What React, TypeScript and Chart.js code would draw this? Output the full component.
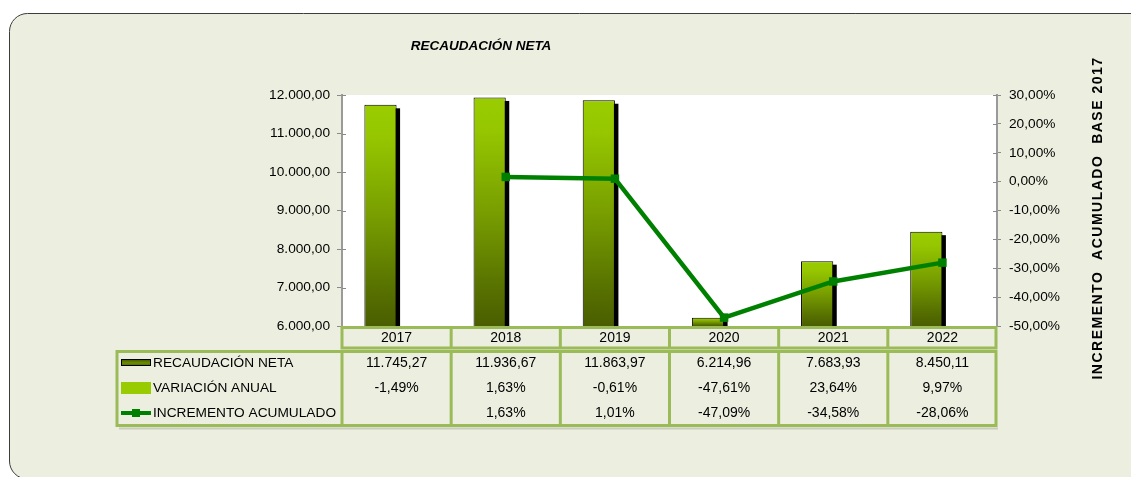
import { useEffect, useRef } from 'react';
import { Chart, registerables } from 'chart.js';

Chart.register(...registerables);

// ---------- data ----------
const years = ['2017', '2018', '2019', '2020', '2021', '2022'];
const recaudacionNeta = [11745.27, 11936.67, 11863.97, 6214.96, 7683.93, 8450.11];
const variacionAnual = [-1.49, 1.63, -0.61, -47.61, 23.64, 9.97];
const incrementoAcumulado: (number | null)[] = [null, 1.63, 1.01, -47.09, -34.58, -28.06];
const seriesNames = ['RECAUDACIÓN NETA', 'VARIACIÓN ANUAL', 'INCREMENTO ACUMULADO'];
const leftAxisMin = 6000;
const leftAxisMax = 12000;
const leftAxisStep = 1000;
const rightAxisMin = -50;
const rightAxisMax = 30;
const rightAxisStep = 10;
const chartTitle = 'RECAUDACIÓN NETA';
const rightAxisTitle = 'INCREMENTO  ACUMULADO  BASE 2017';

// ---------- styles ----------
const FONT = '"Liberation Sans", Arial, sans-serif';
const TABLE_GREEN = '#9BBB59';
const LINE_GREEN = '#008000';
const LIGHT_GREEN = '#99CC00';
const BOX_BG = '#ECEFE0';

function fmtNum(v: number, dec: number): string {
  const neg = v < 0;
  const s = Math.abs(v).toFixed(dec);
  const [int, frac] = s.split('.');
  const grouped = int.replace(/\B(?=(\d{3})+(?!\d))/g, '.');
  return (neg ? '-' : '') + grouped + (frac ? ',' + frac : '');
}
const fmtPct = (v: number) => fmtNum(v, 2) + '%';

const backgroundPlugin = {
  id: 'bgBox',
  beforeDraw(chart: any) {
    const { ctx, chartArea: a, width, height } = chart;
    ctx.save();
    ctx.fillStyle = '#ffffff';
    ctx.fillRect(0, 0, width, height);
    ctx.beginPath();
    (ctx as any).roundRect(9.5, 13.5, width + 40, height - 13 + 1.5, 18);
    ctx.fillStyle = BOX_BG;
    ctx.fill();
    ctx.strokeStyle = '#3c3c3c';
    ctx.lineWidth = 1;
    ctx.stroke();
    ctx.fillStyle = '#ffffff';
    ctx.fillRect(a.left, a.top, a.right - a.left, a.bottom - a.top);
    ctx.restore();
  },
};

const shadowPlugin = {
  id: 'barShadow',
  beforeDatasetsDraw(chart: any) {
    const { ctx, chartArea: a } = chart;
    const meta = chart.getDatasetMeta(1);
    ctx.save();
    ctx.beginPath();
    ctx.rect(a.left, a.top, a.right - a.left, a.bottom - a.top);
    ctx.clip();
    ctx.fillStyle = '#000000';
    meta.data.forEach((el: any) => {
      const w = el.width;
      const top = Math.min(el.y, el.base);
      const h = Math.abs(el.base - el.y);
      ctx.fillRect(el.x - w / 2 + 3.5, top + 3.5, w, h);
    });
    ctx.restore();
  },
};

const overlayPlugin = {
  id: 'overlay',
  afterDraw(chart: any) {
    const { ctx, chartArea: a } = chart;
    const xs = chart.scales.x;
    const yl = chart.scales.y;
    const yr = chart.scales.y1;
    ctx.save();

    // inner halves of crossing tick marks
    ctx.strokeStyle = '#8a8a8a';
    ctx.lineWidth = 1;
    yl.ticks.forEach((t: any) => {
      const py = Math.round(yl.getPixelForValue(t.value)) + 0.5;
      ctx.beginPath();
      ctx.moveTo(a.left, py);
      ctx.lineTo(a.left + 4, py);
      ctx.stroke();
    });
    yr.ticks.forEach((t: any) => {
      const py = Math.round(yr.getPixelForValue(t.value)) + 0.5;
      ctx.beginPath();
      ctx.moveTo(a.right - 4, py);
      ctx.lineTo(a.right, py);
      ctx.stroke();
    });

    // title
    ctx.fillStyle = '#000';
    ctx.font = `italic bold 13.5px ${FONT}`;
    ctx.textAlign = 'center';
    ctx.textBaseline = 'middle';
    ctx.fillText(chartTitle, 481, 46);

    // right axis title (reads bottom to top)
    ctx.save();
    ctx.translate(1098, 218);
    ctx.rotate(-Math.PI / 2);
    ctx.font = `bold 14px ${FONT}`;
    (ctx as any).letterSpacing = '1.5px';
    ctx.textAlign = 'center';
    ctx.fillText(rightAxisTitle, 0, 0);
    ctx.restore();

    // data table
    const colW = xs.getPixelForValue(1) - xs.getPixelForValue(0);
    const bounds: number[] = years.map((_, i) => xs.getPixelForValue(i) - colW / 2);
    bounds.push(bounds[bounds.length - 1] + colW);
    const left = 117;
    const right = bounds[bounds.length - 1] - 1;
    const hTop = 327.5;
    const hBot = 348;
    const dTop = 351.5;
    const dBot = 425.5;

    // soft shadow under table
    ctx.strokeStyle = 'rgba(120,120,110,0.3)';
    ctx.lineWidth = 2;
    ctx.beginPath();
    ctx.moveTo(left + 2, dBot + 3);
    ctx.lineTo(right + 2, dBot + 3);
    ctx.stroke();

    ctx.strokeStyle = TABLE_GREEN;
    ctx.lineWidth = 3;
    ctx.lineCap = 'square';
    ctx.beginPath();
    // header row
    ctx.moveTo(bounds[0], hTop);
    ctx.lineTo(right, hTop);
    ctx.moveTo(bounds[0], hBot);
    ctx.lineTo(right, hBot);
    bounds.forEach((b, i) => {
      const bx = i === bounds.length - 1 ? right : b;
      ctx.moveTo(bx, hTop);
      ctx.lineTo(bx, hBot);
    });
    // data area
    ctx.moveTo(left, dTop);
    ctx.lineTo(right, dTop);
    ctx.moveTo(left, dBot);
    ctx.lineTo(right, dBot);
    ctx.moveTo(left, dTop);
    ctx.lineTo(left, dBot);
    bounds.forEach((b, i) => {
      const bx = i === bounds.length - 1 ? right : b;
      ctx.moveTo(bx, dTop);
      ctx.lineTo(bx, dBot);
    });
    ctx.stroke();

    // header text
    ctx.fillStyle = '#000';
    ctx.font = `14px ${FONT}`;
    ctx.textAlign = 'center';
    ctx.textBaseline = 'middle';
    years.forEach((yr, i) => ctx.fillText(yr, xs.getPixelForValue(i), 338.5));

    const rowY = [363, 388, 413];
    years.forEach((_, i) => {
      const cx = xs.getPixelForValue(i);
      ctx.fillText(fmtNum(recaudacionNeta[i], 2), cx, rowY[0]);
      ctx.fillText(fmtPct(variacionAnual[i]), cx, rowY[1]);
      const inc = incrementoAcumulado[i];
      if (inc !== null) ctx.fillText(fmtPct(inc), cx, rowY[2]);
    });

    // legend keys
    const kx = 121;
    const kw = 30;
    const g = ctx.createLinearGradient(0, rowY[0] - 4, 0, rowY[0] + 4);
    g.addColorStop(0, '#3E5200');
    g.addColorStop(0.5, '#6E8F00');
    g.addColorStop(1, '#3E5200');
    ctx.fillStyle = g;
    ctx.fillRect(kx, rowY[0] - 4, kw, 7);
    ctx.strokeStyle = '#000';
    ctx.lineWidth = 1;
    ctx.strokeRect(kx + 0.5, rowY[0] - 3.5, kw - 1, 6);

    ctx.fillStyle = LIGHT_GREEN;
    ctx.fillRect(kx, rowY[1] - 6, kw, 12);

    ctx.strokeStyle = LINE_GREEN;
    ctx.lineWidth = 4;
    ctx.lineCap = 'butt';
    ctx.beginPath();
    ctx.moveTo(kx, rowY[2]);
    ctx.lineTo(kx + kw, rowY[2]);
    ctx.stroke();
    ctx.fillStyle = LINE_GREEN;
    ctx.fillRect(kx + kw / 2 - 4, rowY[2] - 4, 8, 8);

    // legend labels
    ctx.fillStyle = '#000';
    ctx.font = `13.7px ${FONT}`;
    ctx.textAlign = 'left';
    seriesNames.forEach((n, i) => ctx.fillText(n, 153, rowY[i]));

    ctx.restore();
  },
};

function barGradient(c: any) {
  const chart = c.chart;
  const a = chart.chartArea;
  if (!a || c.type !== 'data') return LIGHT_GREEN;
  const v = c.parsed ? c.parsed.y : recaudacionNeta[c.dataIndex];
  const top = chart.scales.y.getPixelForValue(v);
  const bottom = a.bottom;
  if (!isFinite(top) || bottom - top < 1) return LIGHT_GREEN;
  const g = chart.ctx.createLinearGradient(0, top, 0, bottom);
  g.addColorStop(0, '#9ACD00');
  g.addColorStop(0.15, '#95C600');
  g.addColorStop(0.5, '#789E00');
  g.addColorStop(0.85, '#566F00');
  g.addColorStop(1, '#4A5E00');
  return g;
}

export default function App() {
  const ref = useRef<HTMLCanvasElement>(null);

  useEffect(() => {
    document.body.style.margin = '0';
    document.body.style.overflow = 'hidden';
    const canvas = ref.current;
    if (!canvas) return;
    const chart = new Chart(canvas, {
      type: 'bar',
      data: {
        labels: years,
        datasets: [
          {
            type: 'line',
            label: seriesNames[2],
            data: incrementoAcumulado,
            yAxisID: 'y1',
            borderColor: LINE_GREEN,
            backgroundColor: LINE_GREEN,
            borderWidth: 4.5,
            pointStyle: 'rect',
            pointRadius: 6,
            pointBorderWidth: 0,
            pointBackgroundColor: LINE_GREEN,
            tension: 0,
            order: 0,
          } as any,
          {
            type: 'bar',
            label: seriesNames[0],
            data: recaudacionNeta,
            yAxisID: 'y',
            backgroundColor: barGradient,
            borderColor: '#000000',
            borderWidth: 1,
            borderSkipped: false,
            categoryPercentage: 0.59,
            barPercentage: 1,
            clip: 0,
            order: 1,
          } as any,
          {
            type: 'bar',
            label: seriesNames[1],
            data: variacionAnual,
            yAxisID: 'y',
            backgroundColor: LIGHT_GREEN,
            borderWidth: 0,
            categoryPercentage: 0.59,
            barPercentage: 1,
            clip: 0,
            order: 1,
          } as any,
        ],
      },
      options: {
        responsive: false,
        animation: false,
        devicePixelRatio: 1,
        layout: { padding: { top: 95, bottom: 151, left: 0, right: 0 } },
        plugins: {
          legend: { display: false },
          title: { display: false },
          tooltip: { enabled: false },
        },
        scales: {
          x: {
            display: false,
            offset: true,
          },
          y: {
            position: 'left',
            min: leftAxisMin,
            max: leftAxisMax,
            afterFit: (s: any) => {
              s.width = 342;
            },
            ticks: {
              stepSize: leftAxisStep,
              padding: 7,
              color: '#000',
              font: { family: FONT, size: 13.7 },
              callback: (v: any) => fmtNum(Number(v), 2),
            },
            grid: {
              drawOnChartArea: false,
              tickLength: 5,
              color: '#8a8a8a',
            },
            border: { display: true, color: '#9a9a9a', width: 2 },
          },
          y1: {
            position: 'right',
            min: rightAxisMin,
            max: rightAxisMax,
            afterFit: (s: any) => {
              s.width = 134;
            },
            ticks: {
              stepSize: rightAxisStep,
              padding: 8,
              color: '#000',
              font: { family: FONT, size: 13.7 },
              callback: (v: any) => fmtPct(Number(v)),
            },
            grid: {
              drawOnChartArea: false,
              tickLength: 4,
              color: '#8a8a8a',
            },
            border: { display: true, color: '#9a9a9a', width: 2 },
          },
        },
      } as any,
      plugins: [backgroundPlugin, shadowPlugin, overlayPlugin],
    });
    return () => chart.destroy();
  }, []);

  return (
    <canvas
      ref={ref}
      width={1131}
      height={477}
      style={{ display: 'block', width: 1131, height: 477 }}
    />
  );
}
